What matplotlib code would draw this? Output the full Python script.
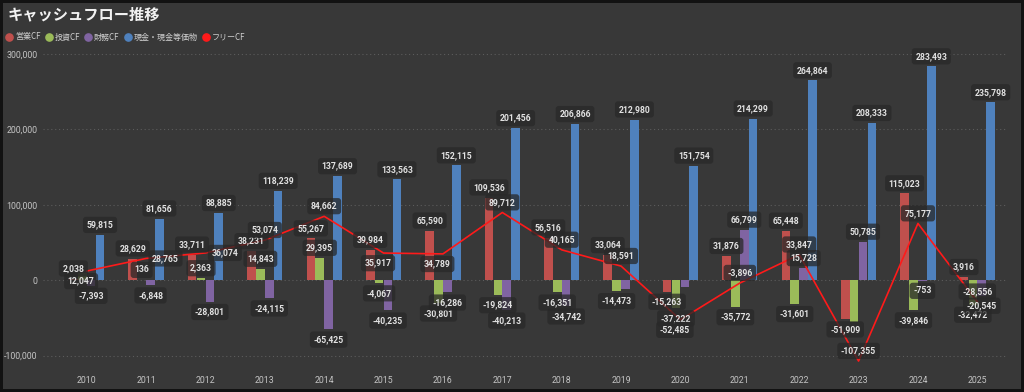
import numpy as np
import matplotlib.pyplot as plt
from matplotlib.lines import Line2D
from matplotlib.patches import Rectangle

plt.rcParams['font.family'] = ['Noto Sans CJK JP', 'DejaVu Sans']

years = [2010, 2011, 2012, 2013, 2014, 2015, 2016, 2017,
         2018, 2019, 2020, 2021, 2022, 2023, 2024, 2025]
operating_cf = [2038, 28629, 33711, 38231, 55267, 39984, 65590, 109536,
                56516, 33064, -15263, 31876, 65448, -51909, 115023, 3916]
investing_cf = [10009, 136, 2363, 14843, 29395, -4067, -30801, -19824,
                -16351, -14473, -37222, -35772, -31601, -55446, -39846, -32472]
financing_cf = [-7393, -6848, -28801, -24115, -65425, -40235, -16286, -40213,
                -34742, -12400, -8900, 66799, 15728, 50785, -753, -20545]
cash = [59815, 81656, 88885, 118239, 137689, 133563, 152115, 201456,
        206866, 212980, 151754, 214299, 264864, 208333, 283493, 235798]
free_cf = [12047, 28765, 36074, 53074, 84662, 35917, 34789, 89712,
           40165, 18591, -52485, -3896, 33847, -107355, 75177, -28556]

series_names = ["営業CF", "投資CF", "財務CF", "現金・現金等価物"]
fcf_name = "フリーCF"
y_ticks = [-100000, 0, 100000, 200000, 300000]

# labels the original chart hid because they collided
hidden = {("投資CF", 2010), ("財務CF", 2019), ("財務CF", 2020), ("投資CF", 2023)}
fcf_label_side = {2010: "below", 2011: "right", 2012: "right",
                  2015: "below", 2016: "below", 2020: "below"}

BG = "#383838"
colors = ["#c0504d", "#9bbb59", "#8064a2", "#4f81bd"]
fcf_color = "#ff1a1a"
label_font = ["Roboto", "DejaVu Sans"]

W, H = 1024, 392
fig = plt.figure(figsize=(W / 100, H / 100), dpi=100, facecolor=BG)
ax = fig.add_axes([57 / W, 1 - 355.5 / H, 950 / W, 301.5 / H])
ax.set_facecolor(BG)

x = np.arange(len(years))
slot = 0.15
bar_w = 0.145
bar_series = [operating_cf, investing_cf, financing_cf, cash]

for yv in y_ticks:
    ax.axhline(yv, xmin=-0.015, xmax=1, color="#5c5c5c", lw=0.8,
               ls=(0, (1, 2.5)), clip_on=False, zorder=0)

box = dict(boxstyle="round,pad=0.42,rounding_size=0.35", fc="#282828", ec="none", alpha=0.75)


def put_label(xx, yy, dx, dy, value):
    ax.annotate(f"{value:,}", (xx, yy), xytext=(dx, dy), textcoords="offset points",
                ha="center", va="center", fontsize=6.2, fontweight="bold",
                color="#e2e2e2", family=label_font, bbox=box, zorder=6,
                annotation_clip=False)


for i, (name, vals, col) in enumerate(zip(series_names, bar_series, colors)):
    xs = x + (i - 1.5) * slot
    ax.bar(xs, vals, width=bar_w, color=col, zorder=2)
    for xx, v, yr in zip(xs, vals, years):
        if (name, yr) in hidden:
            continue
        put_label(xx, v, 0, 7.3 if v >= 0 else -7.3, v)

ax.plot(x, free_cf, color=fcf_color, lw=1.2, zorder=4, clip_on=False)
for xx, v, yr in zip(x, free_cf, years):
    side = fcf_label_side.get(yr, "above")
    if side == "above":
        put_label(xx, v, 0, 7.3, v)
    elif side == "below":
        put_label(xx, v, -4, -7.3, v)
    else:
        put_label(xx, v, 14, 0, v)

ax.set_xlim(-0.5, len(years) - 0.5)
ax.set_ylim(-100000, 300000)
ax.set_xticks(x)
ax.set_xticklabels([str(y) for y in years])
ax.set_yticks(y_ticks)
ax.set_yticklabels([f"{t:,}" for t in y_ticks])
ax.tick_params(axis="both", length=0, labelsize=6.3, colors="#c4c4c4")
ax.tick_params(axis="y", pad=14)
ax.tick_params(axis="x", pad=15)
for lab in ax.get_xticklabels() + ax.get_yticklabels():
    lab.set_family(label_font)
for s in ax.spines.values():
    s.set_visible(False)

fig.text(8 / W, 1 - 14 / H, "キャッシュフロー推移", fontsize=11, fontweight="bold",
         color="#f2f2f2", ha="left", va="center")

# legend drawn by hand so it sits like the original
renderer = fig.canvas.get_renderer()
px = 9
ly = 1 - 37 / H
for name, col in zip(series_names + [fcf_name], colors + [fcf_color]):
    fig.add_artist(Line2D([px / W], [ly], marker="o", markersize=5.2, color=col,
                          transform=fig.transFigure, linestyle="none"))
    t = fig.text((px + 6) / W, ly, name, fontsize=5.8, color="#d0d0d0",
                 ha="left", va="center")
    bb = t.get_window_extent(renderer)
    px = bb.x1 + 8

fig.add_artist(Rectangle((0, 0), 1, 1, transform=fig.transFigure, fill=False,
                         edgecolor="#121212", linewidth=4.3))

fig.savefig("out.png", dpi=100, facecolor=BG)
